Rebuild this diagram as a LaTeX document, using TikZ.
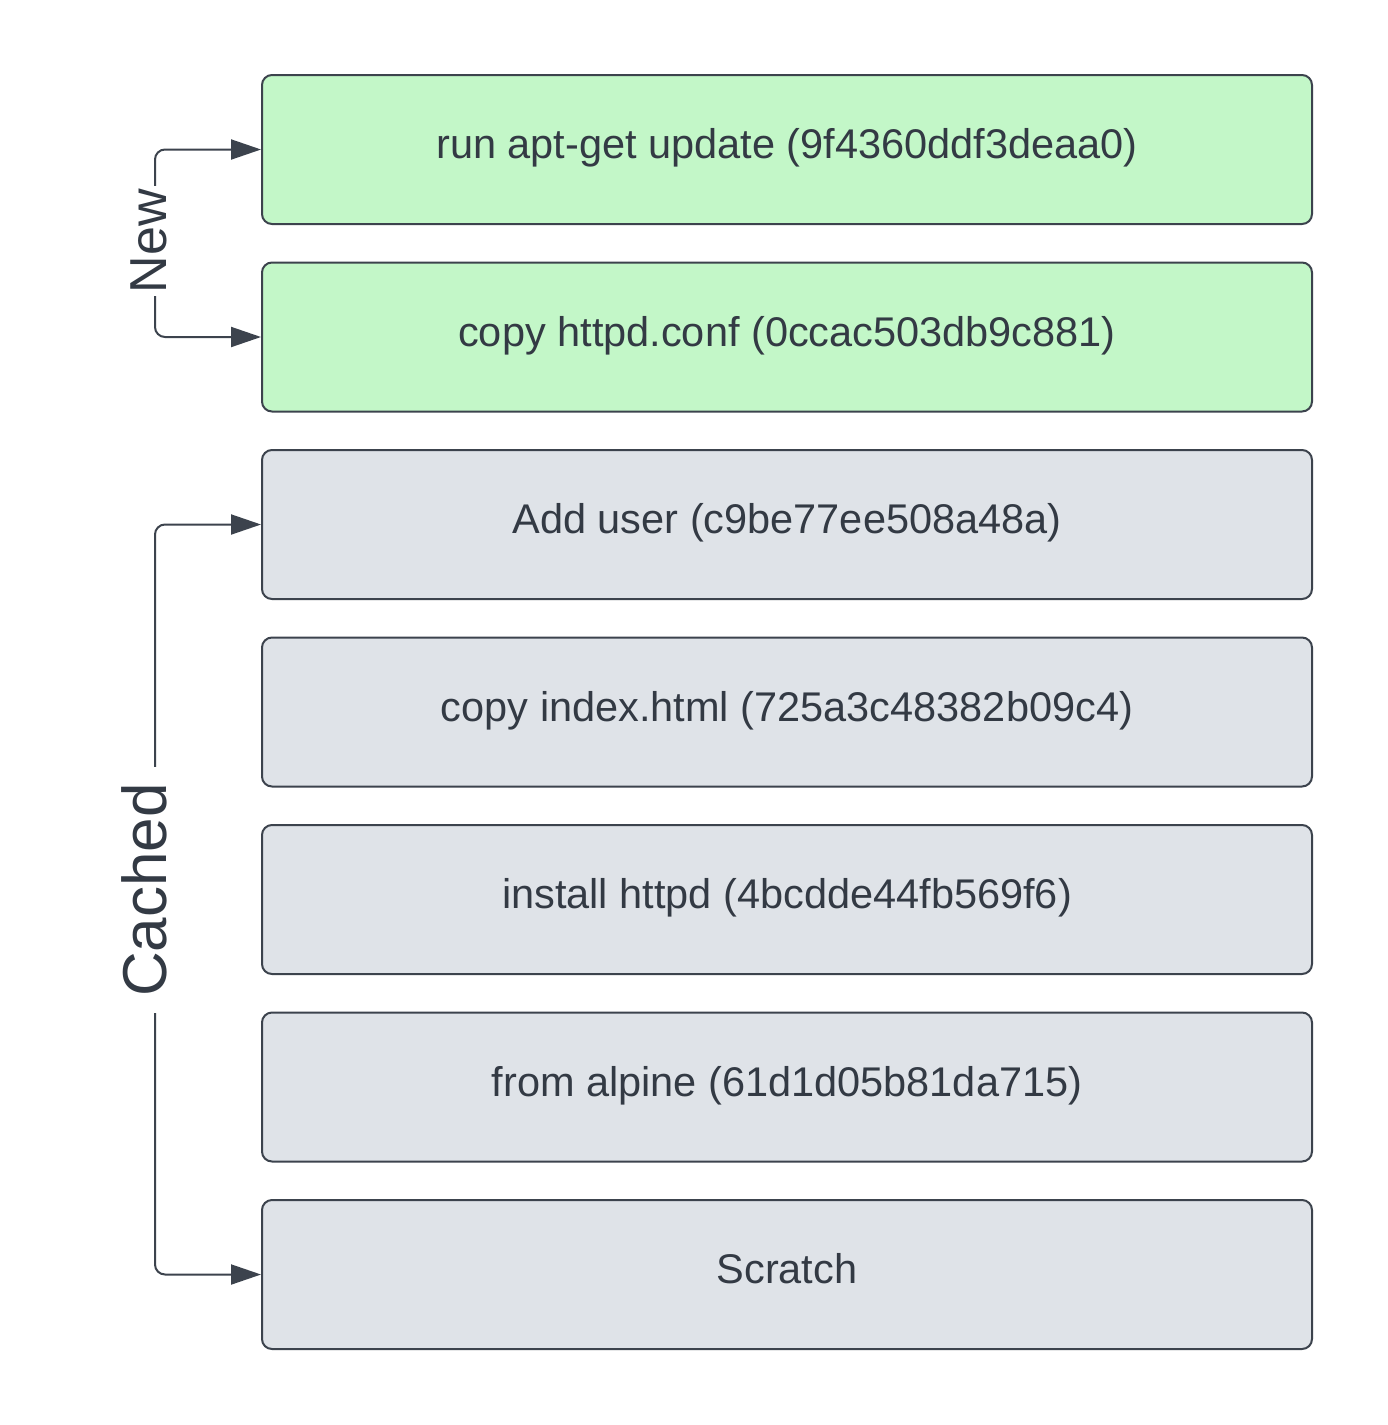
\documentclass[tikz,border=0pt]{standalone}
\usepackage{fontspec}
\setmainfont{Liberation Sans}
\usetikzlibrary{arrows.meta}
\definecolor{greenfill}{HTML}{C3F7C8}
\definecolor{grayfill}{HTML}{DFE3E8}
\definecolor{edgecol}{HTML}{3C434D}
\definecolor{textcol}{HTML}{333A44}
\begin{document}
\begin{tikzpicture}[x=1pt,y=-1pt,
  layerbox/.style={draw=edgecol, line width=2pt, rounded corners=10pt,
    minimum width=1050pt, minimum height=149pt, inner sep=0pt,
    text=textcol, text height=26pt, text depth=8pt,
    font=\fontsize{41.5pt}{50pt}\selectfont},
  newbox/.style={layerbox, fill=greenfill},
  oldbox/.style={layerbox, fill=grayfill},
  sidelabel/.style={rotate=90, anchor=base, text=textcol, inner ysep=0pt},
  conn/.style={draw=edgecol, line width=2pt, rounded corners=10pt,
    -{Triangle[length=30pt,width=20pt]}}]
\useasboundingbox[fill=white] (0,0) rectangle (1388,1425);

\node[newbox] (b1) at (787,149.5) {run apt-get update (9f4360ddf3deaa0)};
\node[newbox] (b2) at (787,337) {copy httpd.conf (0ccac503db9c881)};
\node[oldbox] (b3) at (787,524.5) {Add user (c9be77ee508a48a)};
\node[oldbox] (b4) at (787,712) {copy index.html (725a3c48382b09c4)};
\node[oldbox] (b5) at (787,899.5) {install httpd (4bcdde44fb569f6)};
\node[oldbox] (b6) at (787,1087) {from alpine (61d1d05b81da715)};
\node[oldbox] (b7) at (787,1274.5) {Scratch};

\coordinate (lx) at (155,0);

\node[sidelabel, inner xsep=3pt, font=\fontsize{52pt}{60pt}\selectfont] (newlbl) at (166,241) {New};
\node[sidelabel, inner xsep=16pt, font=\fontsize{62pt}{72pt}\selectfont] (cachedlbl) at (166,890) {Cached};

\draw[conn] (newlbl.east -| lx) |- (b1.west);
\draw[conn] (newlbl.west -| lx) |- (b2.west);
\draw[conn] (cachedlbl.east -| lx) |- (b3.west);
\draw[conn] (cachedlbl.west -| lx) |- (b7.west);
\end{tikzpicture}
\end{document}
